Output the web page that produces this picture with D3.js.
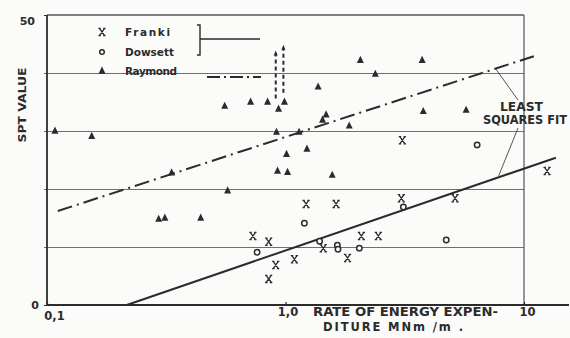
<!DOCTYPE html>
<html><head><meta charset="utf-8">
<script src="https://cdn.jsdelivr.net/npm/d3@7"></script>
<style>
html,body{margin:0;padding:0;background:#fbfbf9;}
svg{display:block;}
text{font-family:"DejaVu Sans",sans-serif;fill:#2b2b2b;font-weight:bold;}
</style></head><body>
<svg id="chart" width="570" height="338"></svg>
<script>
// SPT value against rate of energy expenditure (MNm/m) for three pile types
const franki = [[0.73,11.9],[0.85,10.9],[0.91,6.9],[0.85,4.5],[1.09,7.9],[1.22,17.4],[1.63,17.4],
  [1.44,9.8],[1.82,8.1],[2.08,11.9],[2.45,11.9],[3.06,18.4],[5.14,18.4],[12.5,23.1],[3.09,28.4]];
const dowsett = [[0.76,9.1],[1.2,14.1],[1.39,11.0],[1.65,10.3],[1.66,9.6],[2.04,9.8],[3.12,16.9],
  [4.72,11.2],[6.36,27.6]];
const raymond = [[0.108,30.0],[0.154,29.1],[0.333,22.8],[0.294,14.8],[0.312,15.0],[0.441,15.0],
  [0.572,19.7],[0.556,34.3],[0.714,35.0],[0.841,35.0],[0.935,33.8],[0.99,35.0],[0.917,29.8],
  [1.14,29.8],[1.01,26.0],[1.23,26.9],[0.926,23.1],[1.02,22.9],[2.06,42.2],[3.74,42.2],
  [2.38,39.8],[1.37,37.6],[3.78,33.4],[5.72,33.6],[1.48,32.8],[1.43,31.9],[1.85,30.9],[1.57,22.4]];
// Raymond readings above the plotted values (dashed arrows)
const raymondArrows = [[0.91,35.6,43.2],[0.98,36.6,44.2]];
// least squares fits (end points)
const fitFranki = [[0.216,0],[13.6,25.4]];
const fitRaymond = [[0.111,16.2],[11.0,42.9]];
const xTicks = [0.1,1,10];
const xTickLabels = ["0,1","1,0","10"];
const yTicks = [0,50];
const yTickLabels = ["0","50"];
const yGrid = [10,20,30,40];
const legendItems = ["Franki","Dowsett","Raymond"];

const ink = "#2b2b2b";
const svg = d3.select("#chart");
const x = d3.scaleLog().domain([0.1,10]).range([47,524]);
const y = d3.scaleLinear().domain([0,50]).range([305,15]);

// horizontal grid
const grid = svg.append("g").attr("transform","translate(47,0)")
  .call(d3.axisLeft(y).tickValues(yGrid).tickSize(-(524-47)).tickFormat(""));
grid.select(".domain").remove();
grid.selectAll(".tick line").attr("stroke","#6f6f6f").attr("stroke-width",1.1).attr("x1",-3);

// frame
svg.append("line").attr("x1",47).attr("x2",524).attr("y1",y(50)).attr("y2",y(50)).attr("stroke","#555").attr("stroke-width",1.3);
svg.append("line").attr("x1",x(10)).attr("x2",x(10)).attr("y1",y(50)).attr("y2",y(0)).attr("stroke","#555").attr("stroke-width",1.2);
svg.append("line").attr("x1",47).attr("x2",47).attr("y1",y(50)).attr("y2",y(0)).attr("stroke",ink).attr("stroke-width",1.8);

// y axis labels
const yAx = svg.append("g").attr("transform","translate(47,0)")
  .call(d3.axisLeft(y).tickValues(yTicks).tickSize(3).tickFormat((d,i)=>yTickLabels[i]));
yAx.select(".domain").remove();
yAx.selectAll(".tick line").attr("stroke",ink);
yAx.selectAll(".tick text").attr("font-size",11).attr("fill",ink).attr("font-family","DejaVu Sans")
  .attr("dx",(d)=>d===50?-6:-2).attr("dy",(d)=>d===50?"0.85em":"0.3em");

// x axis
const xAx = svg.append("g").attr("transform","translate(0,305)")
  .call(d3.axisBottom(x).tickValues(xTicks).tickSize(-3).tickFormat((d,i)=>xTickLabels[i]));
xAx.select(".domain").remove();
xAx.selectAll(".tick line").attr("stroke",ink).attr("stroke-width",1.2);
xAx.selectAll(".tick text").attr("font-size",11.5).attr("fill",ink).attr("font-family","DejaVu Sans")
  .attr("text-anchor","middle")
  .attr("dx",(d)=>d===0.1?7:(d===1?2:3))
  .attr("y",(d)=>d===0.1?7:3);
svg.append("line").attr("x1",47).attr("x2",569).attr("y1",305).attr("y2",305).attr("stroke",ink).attr("stroke-width",2.2);

// fit lines
const line = d3.line().x(d=>x(d[0])).y(d=>y(d[1]));
svg.append("path").datum(fitFranki).attr("d",line).attr("stroke",ink).attr("stroke-width",2).attr("fill","none");
svg.append("path").datum(fitRaymond).attr("d",line).attr("stroke",ink).attr("stroke-width",2).attr("fill","none")
  .attr("stroke-dasharray","15,5,2,5");

// dashed arrows
const arr = svg.append("g");
raymondArrows.forEach(a=>{
  arr.append("line").attr("x1",x(a[0])).attr("x2",x(a[0])).attr("y1",y(a[1])).attr("y2",y(a[2]))
    .attr("stroke",ink).attr("stroke-width",2).attr("stroke-dasharray","4,3");
  arr.append("path").attr("d",`M${x(a[0])},${y(a[2])-4}l-2,5h4z`).attr("fill",ink);
});

// markers
const triPath = "M0,-4.4L3.5,2.7L-3.5,2.7Z";
const xPath = "M-2.6,-3.6L2.6,3.6M2.6,-3.6L-2.6,3.6M-3.6,-3.6H-1.2M1.2,-3.6H3.6M-3.6,3.6H-1.2M1.2,3.6H3.6";
svg.append("g").selectAll("path").data(raymond).join("path")
  .attr("d",triPath).attr("transform",d=>`translate(${x(d[0])},${y(d[1])})`).attr("fill",ink);
svg.append("g").selectAll("path").data(franki).join("path")
  .attr("d",xPath).attr("transform",d=>`translate(${x(d[0])},${y(d[1])})`)
  .attr("stroke",ink).attr("stroke-width",1.3).attr("fill","none");
svg.append("g").selectAll("circle").data(dowsett).join("circle")
  .attr("cx",d=>x(d[0])).attr("cy",d=>y(d[1])).attr("r",2.7)
  .attr("stroke",ink).attr("stroke-width",1.5).attr("fill","#fbfbf9");

// legend
const lg = svg.append("g");
const lgY = [32,52,71];
lg.append("path").attr("d",xPath).attr("transform",`translate(102,${lgY[0]})`).attr("stroke",ink).attr("stroke-width",1.4).attr("fill","none");
lg.append("circle").attr("cx",102).attr("cy",lgY[1]).attr("r",2.3).attr("stroke",ink).attr("stroke-width",1.5).attr("fill","none");
lg.append("path").attr("d",triPath).attr("transform",`translate(102,${lgY[2]})`).attr("fill",ink);
legendItems.forEach((t,i)=>{
  lg.append("text").attr("x",125).attr("y",lgY[i]+4).attr("font-size",10.5)
    .attr("textLength",[45,49,52][i]).attr("lengthAdjust","spacing").text(t);
});
// bracket and fit-line keys
lg.append("path").attr("d","M197,25H200V55H197M200,39H260").attr("stroke",ink).attr("stroke-width",1.4).attr("fill","none");
lg.append("line").attr("x1",207).attr("x2",261).attr("y1",77).attr("y2",77).attr("stroke",ink).attr("stroke-width",2)
  .attr("stroke-dasharray","13,4,2,4");

// least squares annotation
svg.append("text").attr("x",500).attr("y",111).attr("font-size",11.5).attr("textLength",43).attr("lengthAdjust","spacingAndGlyphs").text("LEAST");
svg.append("text").attr("x",483).attr("y",124).attr("font-size",11.5).attr("textLength",84).attr("lengthAdjust","spacingAndGlyphs").text("SQUARES FIT");
const fr = fitRaymond, ff = fitFranki;
const ePt1 = 7.6, ePt2 = 7.78;
const yR = fr[0][1] + (fr[1][1]-fr[0][1])*(Math.log10(ePt1/fr[0][0]))/Math.log10(fr[1][0]/fr[0][0]);
const yF = ff[0][1] + (ff[1][1]-ff[0][1])*(Math.log10(ePt2/ff[0][0]))/Math.log10(ff[1][0]/ff[0][0]);
svg.append("line").attr("x1",x(ePt1)).attr("y1",y(yR)).attr("x2",518).attr("y2",100).attr("stroke","#555").attr("stroke-width",1);
svg.append("line").attr("x1",x(ePt2)).attr("y1",y(yF)).attr("x2",518).attr("y2",128).attr("stroke","#555").attr("stroke-width",1);

// axis titles
svg.append("text").attr("transform","translate(26,105) rotate(-90)").attr("text-anchor","middle")
  .attr("font-size",11).attr("textLength",75).attr("lengthAdjust","spacingAndGlyphs").text("SPT VALUE");
svg.append("text").attr("x",313).attr("y",316).attr("font-size",11.5).attr("textLength",185).attr("lengthAdjust","spacingAndGlyphs").text("RATE OF ENERGY EXPEN-");
svg.append("text").attr("x",323).attr("y",331).attr("font-size",11.5).attr("textLength",140).attr("lengthAdjust","spacing").text("DITURE   MNm /m .");
</script>
</body></html>
